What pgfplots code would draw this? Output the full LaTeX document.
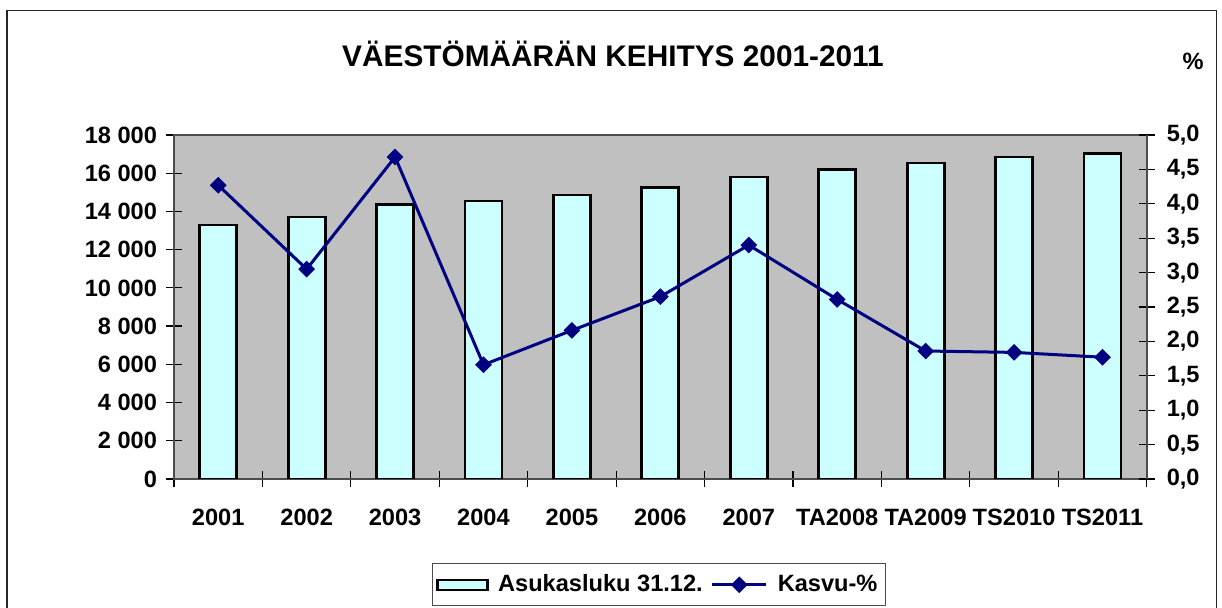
\documentclass[border=0pt]{standalone}
\usepackage{fontspec}
\setmainfont{Liberation Sans}
\usepackage{pgfplots}
\pgfplotsset{compat=1.18}

\definecolor{barcyan}{RGB}{204,255,255}
\definecolor{navyline}{RGB}{0,0,128}
\definecolor{plotgray}{RGB}{192,192,192}

\newcommand{\lbl}{\bfseries\fontsize{11.8}{13}\selectfont}

\pgfplotsset{
  barlegend/.style={legend image code/.code={\draw[fill=barcyan, draw=black, line width=1.2pt] (0pt,-2.5pt) rectangle (25pt,2.5pt); \path (28pt,0pt);}},
  linelegend/.style={legend image code/.code={\path (-2pt,0pt); \draw[mark repeat=2, mark phase=2, ##1] plot coordinates {(0pt,0pt) (13.5pt,0pt) (27pt,0pt)}; \path (30pt,0pt);}},
  common/.style={
    scale only axis, width=486.35pt, height=172pt,
    at={(87pt,64.5pt)}, anchor=south west,
    xmin=-0.5, xmax=10.5, ymin=0,
    tick align=center, major tick length=8pt,
    tick style={black, line width=0.6pt},
    ticklabel style={font=\lbl},
    /pgf/number format/assume math mode=true,
  },
}

\begin{document}
\begin{tikzpicture}
\path[use as bounding box] (0pt,0pt) rectangle (611pt,304pt);
\draw[black!85, line width=0.6pt] (3.5pt,-10pt) rectangle (608.35pt,298.65pt);
\node[anchor=base, font=\bfseries\fontsize{14.9}{16}\selectfont] at (306.5pt,270.65pt) {VÄESTÖMÄÄRÄN KEHITYS 2001-2011};
\node[anchor=base, font=\lbl] at (596.5pt,269pt) {\%};

\begin{axis}[common,
  ymax=18000, ytick={0,2000,...,18000},
  ytick pos=left, xtick pos=bottom,
  axis background/.style={fill=plotgray},
  axis line style={draw=black!70, line width=0.8pt},
  xtick={-0.5,0.5,1.5,2.5,3.5,4.5,5.5,6.5,7.5,8.5,9.5,10.5},
  x tick label as interval,
  xticklabels={2001,2002,2003,2004,2005,2006,2007,TA2008,TA2009,TS2010,TS2011},
  xticklabel style={yshift=-7.5pt},
  scaled y ticks=false,
  yticklabel style={xshift=-1pt, /pgf/number format/.cd, fixed, precision=0, 1000 sep={\ }},
]
\addplot[ybar, bar width=18.5pt, bar shift=0pt, fill=barcyan, draw=black, line width=1.4pt] coordinates {
(0,13290) (1,13710) (2,14350) (3,14550) (4,14860) (5,15260) (6,15800) (7,16200) (8,16535) (9,16850) (10,17040)};
\end{axis}

\begin{axis}[common,
  axis x line=none, axis y line*=right,
  y axis line style={-, draw=black!70, line width=0.8pt},
  ymax=5, ytick={0,0.5,...,5},
  yticklabel style={xshift=2.5pt, /pgf/number format/.cd, fixed, fixed zerofill, precision=1, use comma},
  legend columns=-1,
  legend style={at={(0.2652,-0.245)}, anchor=north west, draw=black!70, line width=0.5pt, font=\lbl, inner xsep=2pt, inner ysep=3.5pt},
]
\addlegendimage{barlegend}
\addlegendentry{Asukasluku 31.12.}
\addplot[navyline, line width=1.5pt, mark=square*, mark size=2.7pt, mark options={rotate=45, fill=navyline, draw=navyline, line width=0.5pt}, linelegend] coordinates {
(0,4.27) (1,3.05) (2,4.68) (3,1.66) (4,2.16) (5,2.65) (6,3.40) (7,2.61) (8,1.86) (9,1.84) (10,1.77)};
\addlegendentry{Kasvu-\%}
\end{axis}
\end{tikzpicture}
\end{document}
